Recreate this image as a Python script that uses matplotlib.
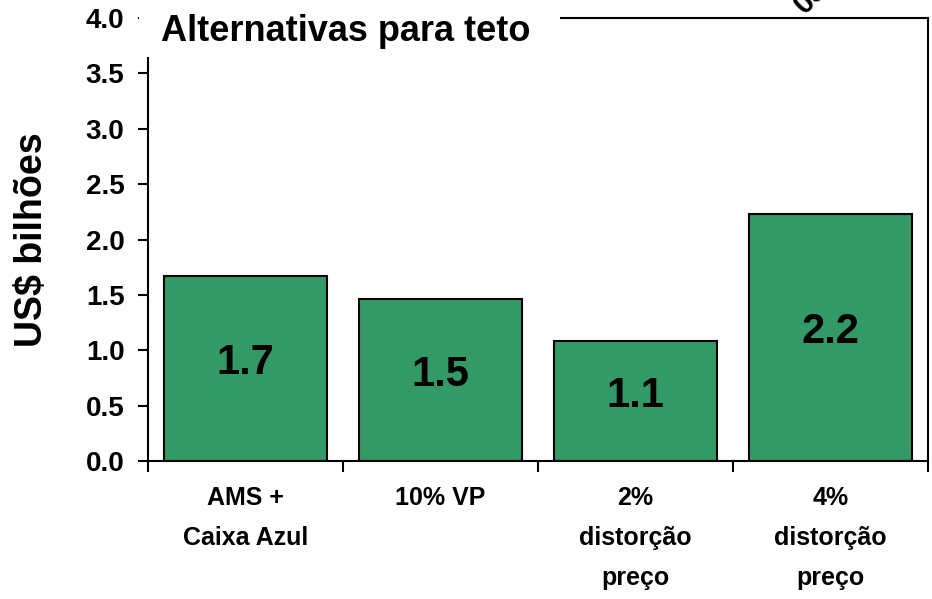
import matplotlib.pyplot as plt
from matplotlib.patches import Rectangle
import numpy as np

#-- data
categories = ['AMS +\nCaixa Azul', '10% VP', '2%\ndistorção\npreço', '4%\ndistorção\npreço']
values     = [1.67, 1.46, 1.08, 2.23]
labels     = ['1.7', '1.5', '1.1', '2.2']
yticks     = np.arange(0.0, 4.01, 0.5)

plt.rcParams['font.family'] = ['Liberation Sans', 'DejaVu Sans']
plt.rcParams['font.weight'] = 'bold'

fig = plt.figure(figsize=(9.32, 5.99), dpi=100)
ax  = fig.add_axes([148/932, 1-461/599, 780/932, 443/599])

x = np.arange(len(values))
ax.bar(x, values, width=0.835, color='#339966', edgecolor='black', linewidth=1.5, zorder=2)

#-- value labels inside the bars
for xi, v, s in zip(x, values, labels):
    ax.text(xi, v/2 + 0.05, s, ha='center', va='center', fontsize=30, fontweight='bold')

ax.set_xlim(-0.5, 3.5)
ax.set_ylim(0, 4.0)
ax.set_yticks(yticks)
ax.set_yticklabels(['%.1f' % t for t in yticks], fontsize=20, fontweight='bold')
ax.tick_params(axis='y', direction='out', length=7, width=1.5, pad=10)

#-- category labels centred, tick marks at the category boundaries
ax.set_xticks(x)
ax.set_xticklabels(categories, fontsize=18, fontweight='bold', linespacing=1.85)
ax.tick_params(axis='x', which='major', length=0, pad=18)
ax.set_xticks(np.arange(-0.5, 3.6, 1.0), minor=True)
ax.tick_params(axis='x', which='minor', direction='out', length=8, width=1.5)

for sp in ax.spines.values():
    sp.set_linewidth(1.5)

ax.set_ylabel('US$ bilhões', fontsize=27, fontweight='bold', labelpad=26)

#-- white box hiding the top-left frame behind the title
ax.add_patch(Rectangle((-0.012, 0.912), 0.54, 0.2, transform=ax.transAxes,
                       facecolor='white', edgecolor='none', clip_on=False, zorder=10))
ax.text(0.017, 0.97, 'Alternativas para teto', transform=ax.transAxes,
        fontsize=26, fontweight='bold', ha='left', va='center', zorder=11)

#-- clipped rotated text at the top edge
fig.text(788/932, 1-20/599, '05', rotation=45, fontsize=22, fontweight='bold',
         ha='left', va='bottom')

fig.savefig('out.png', dpi=100)
